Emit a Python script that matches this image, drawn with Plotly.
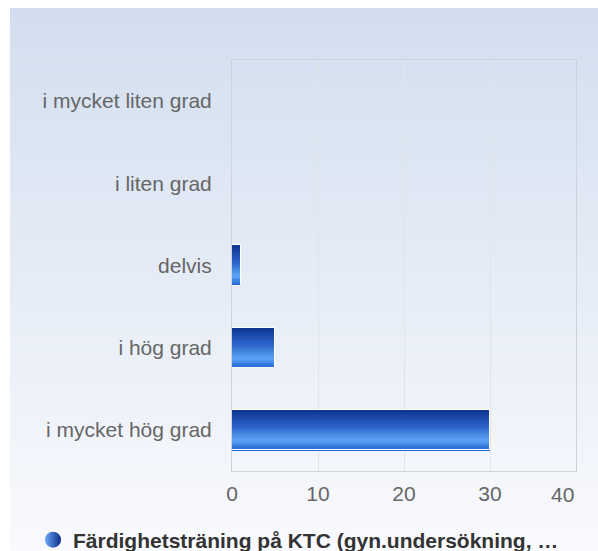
import plotly.graph_objects as go

categories = ["i mycket hög grad", "i hög grad", "delvis", "i liten grad", "i mycket liten grad"]
values = [30, 5, 1, 0, 0]
x_ticks = [0, 10, 20, 30, 40]
x_tick_labels = ["0", "10", "20", "30", "40"]
series_name = "Färdighetsträning på KTC (gyn.undersökning, …"

W, H = 598, 551
L, R, T, B = 232, 22, 60, 80
pw, ph = W - L - R, H - T - B

def lerp(c1, c2, t):
    return tuple(round(a + (b - a) * t) for a, b in zip(c1, c2))

def hexc(c):
    return "#%02x%02x%02x" % c

fig = go.Figure()

# bar gradient (bottom -> top stops)
stops = [(0.0, (0x1c, 0x60, 0xd0)), (0.25, (0x5c, 0xa6, 0xf6)), (0.6, (0x2a, 0x62, 0xc8)), (1.0, (0x10, 0x36, 0x92))]
def grad(t):
    for (t0, c0), (t1, c1) in zip(stops[:-1], stops[1:]):
        if t <= t1:
            return lerp(c0, c1, (t - t0) / (t1 - t0))
    return stops[-1][1]

bw = 0.49
N = 24
for k in range(N):
    t = (k + 0.5) / N
    fig.add_trace(go.Bar(
        x=values, y=categories, orientation="h",
        width=bw / N * 1.02, offset=-bw / 2 + k * bw / N,
        marker=dict(color=hexc(grad(t)), line=dict(width=0)),
        showlegend=False, hoverinfo="skip"))

outline_vals = [v if v > 0 else None for v in values]
fig.add_trace(go.Bar(
    x=outline_vals, y=categories, orientation="h", width=bw,
    marker=dict(color="rgba(0,0,0,0)", line=dict(color="white", width=1)),
    showlegend=False, hoverinfo="skip"))

# legend entry
fig.add_trace(go.Scatter(
    x=[None], y=[None], mode="markers", name=series_name,
    marker=dict(symbol="circle", size=18, color="#6aaaf8",
                gradient=dict(type="horizontal", color="#0a2a86"),
                line=dict(width=0))))

# background gradient strips
top_c, bot_c = (0xd2, 0xde, 0xef), (0xf9, 0xfa, 0xfd)
y_top, y_bot = 8, H
x_left = 10
S = 60
shapes = []
for i in range(S):
    py0 = y_top + (y_bot - y_top) * i / S
    py1 = y_top + (y_bot - y_top) * (i + 1) / S + 0.6
    c = hexc(lerp(top_c, bot_c, (i + 0.5) / S))
    shapes.append(dict(type="rect", xref="paper", yref="paper",
                       x0=(x_left - L) / pw, x1=(W - L) / pw + 0.01,
                       y0=(H - B - py1) / ph, y1=(H - B - py0) / ph,
                       fillcolor=c, line=dict(width=0), layer="below"))

fig.add_annotation(x=x_ticks[-1], y=0, xref="x", yref="paper", text=x_tick_labels[-1],
                   showarrow=False, xanchor="right", yanchor="middle", yshift=-23,
                   font=dict(size=21, color="#666666"))

fig.update_layout(
    width=W, height=H,
    margin=dict(l=L, r=R, t=T, b=B, pad=0),
    paper_bgcolor="white", plot_bgcolor="rgba(0,0,0,0)",
    barmode="overlay", bargap=0,
    shapes=shapes,
    font=dict(family="Liberation Sans, Arial, sans-serif"),
    showlegend=True,
    legend=dict(orientation="h", xref="container", yref="container",
                x=33 / W, xanchor="left", y=1 - 540 / H, yanchor="middle",
                font=dict(size=21, color="#333333", weight="bold"),
                bgcolor="rgba(0,0,0,0)", itemsizing="trace"),
    xaxis=dict(range=[0, 40], tickvals=x_ticks, ticktext=x_tick_labels[:-1] + [""],
               showgrid=True, gridcolor="#e2e4e8",
               gridwidth=1, zeroline=False, showline=True, linecolor="#cfd2d8",
               linewidth=1, mirror=True, ticks="", ticklabelstandoff=4,
               tickfont=dict(size=21, color="#666666"), fixedrange=True),
    yaxis=dict(categoryorder="array", categoryarray=categories, showgrid=False,
               zeroline=False, showline=True, linecolor="#cfd2d8", linewidth=1,
               mirror=True, ticks="", ticklabelstandoff=15,
               tickfont=dict(size=21, color="#666666"), fixedrange=True),
)

fig.write_html(
    "out.html",
    config={"displayModeBar": False},
    post_script="document.body.style.margin='0';document.documentElement.style.overflow='hidden';document.body.style.overflow='hidden';",
)
